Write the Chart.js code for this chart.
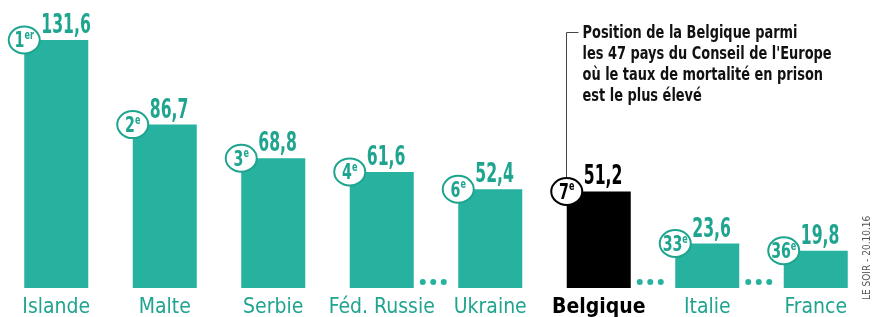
<!DOCTYPE html>
<html>
<head>
<meta charset="utf-8">
<script src="https://cdn.jsdelivr.net/npm/chart.js@4"></script>
<style>
  html, body { margin: 0; padding: 0; background: #fff; }
</style>
</head>
<body>
<canvas id="grafica" width="872" height="317"></canvas>
<script>
// données : taux de mortalité en prison (pour 10.000 détenus)
const pays = ['Islande', 'Malte', 'Serbie', 'Féd. Russie', 'Ukraine', 'Belgique', 'Italie', 'France'];
const taux = [131.6, 86.7, 68.8, 61.6, 52.4, 51.2, 23.6, 19.8];
const rangs = [1, 2, 3, 4, 6, 7, 33, 36];
const paysMisEnAvant = 'Belgique';
const note = [
  'Position de la Belgique parmi',
  "les 47 pays du Conseil de l'Europe",
  'où le taux de mortalité en prison',
  'est le plus élevé'
];
const source = 'LE SOIR - 20.10.16';

const TEAL = '#27b2a0';
const TEAL_TXT = '#1fa48f';
const NOIR = '#000000';
const NARROW = '"Liberation Sans Narrow", "DejaVu Sans Condensed", "Roboto Condensed", sans-serif';

const estMisEnAvant = i => pays[i] === paysMisEnAvant;

// texte resserré horizontalement (la police d'origine est très condensée)
function texteSerre(ctx, txt, x, y, echelle) {
  ctx.save();
  ctx.translate(x, y);
  ctx.scale(echelle, 1);
  ctx.fillText(txt, 0, 0);
  ctx.restore();
}

const habillage = {
  id: 'habillage',
  afterDatasetsDraw(chart) {
    const ctx = chart.ctx;
    const bas = chart.chartArea.bottom;
    const barres = chart.getDatasetMeta(0).data;

    ctx.save();
    ctx.textAlign = 'left';
    ctx.textBaseline = 'alphabetic';

    // trait de la note (avant les cercles)
    const iB = pays.indexOf(paysMisEnAvant);
    const bB = barres[iB];
    const xB = Math.round(bB.x - bB.width / 2) - 0.5;
    ctx.strokeStyle = '#444';
    ctx.lineWidth = 1;
    ctx.beginPath();
    ctx.moveTo(xB + 12, 32.5);
    ctx.lineTo(xB, 32.5);
    ctx.lineTo(xB, bB.y);
    ctx.stroke();

    ctx.fillStyle = '#111';
    ctx.font = `bold 18px ${NARROW}`;
    note.forEach((ligne, k) => texteSerre(ctx, ligne, xB + 16, 38 + k * 21, 0.8));

    barres.forEach((bar, i) => {
      const gauche = bar.x - bar.width / 2;
      const droite = bar.x + bar.width / 2;
      const coul = estMisEnAvant(i) ? NOIR : TEAL_TXT;

      // valeur
      ctx.fillStyle = coul;
      ctx.font = `bold 26px ${NARROW}`;
      texteSerre(ctx, taux[i].toFixed(1).replace('.', ','), gauche + 17, bar.y - 7, 0.67);

      // ... quand des rangs sont sautés
      if (i < rangs.length - 1 && rangs[i + 1] - rangs[i] > 1) {
        ctx.fillStyle = TEAL;
        for (let k = 0; k < 3; k++) {
          ctx.beginPath();
          ctx.arc(droite + 9 + k * 10.5, bas - 6, 3, 0, Math.PI * 2);
          ctx.fill();
        }
      }

      // cercle du rang
      ctx.beginPath();
      ctx.ellipse(gauche, bar.y, 15.5, 13.5, 0, 0, Math.PI * 2);
      ctx.fillStyle = '#fff';
      ctx.fill();
      ctx.lineWidth = 2;
      ctx.strokeStyle = coul;
      ctx.stroke();

      const num = String(rangs[i]);
      const suf = rangs[i] === 1 ? 'er' : 'e';
      const ech = 0.75;
      ctx.font = `bold 21px ${NARROW}`;
      const wn = ctx.measureText(num).width * ech;
      ctx.font = `bold 12px ${NARROW}`;
      const ws = ctx.measureText(suf).width * ech;
      const x0 = gauche - (wn + ws) / 2;
      ctx.fillStyle = coul;
      ctx.font = `bold 21px ${NARROW}`;
      texteSerre(ctx, num, x0, bar.y + 7.5, ech);
      ctx.font = `bold 12px ${NARROW}`;
      texteSerre(ctx, suf, x0 + wn, bar.y - 1, ech);
    });

    // source verticale
    ctx.translate(870, 300);
    ctx.rotate(-Math.PI / 2);
    ctx.fillStyle = '#555';
    ctx.font = `10px ${NARROW}`;
    ctx.fillText(source, 0, 0);

    ctx.restore();
  }
};

new Chart(document.getElementById('grafica'), {
  type: 'bar',
  data: {
    labels: pays,
    datasets: [{
      data: taux,
      backgroundColor: pays.map((p, i) => estMisEnAvant(i) ? NOIR : TEAL),
      barPercentage: 0.59,
      categoryPercentage: 1
    }]
  },
  options: {
    responsive: false,
    animation: false,
    devicePixelRatio: 1,
    layout: { padding: { left: 2, right: 2, top: 0, bottom: 0 } },
    plugins: { legend: { display: false }, tooltip: { enabled: false } },
    scales: {
      x: {
        grid: { display: false, drawTicks: false },
        border: { display: false },
        ticks: {
          padding: 7,
          maxRotation: 0,
          autoSkip: false,
          color: c => estMisEnAvant(c.index) ? NOIR : TEAL_TXT,
          font: c => ({ family: NARROW, size: 21, weight: estMisEnAvant(c.index) ? 'bold' : 'normal' })
        },
        afterFit: s => { s.height = 29; }
      },
      y: { display: false, min: 0, max: 152.8 }
    }
  },
  plugins: [habillage]
});
</script>
</body>
</html>
